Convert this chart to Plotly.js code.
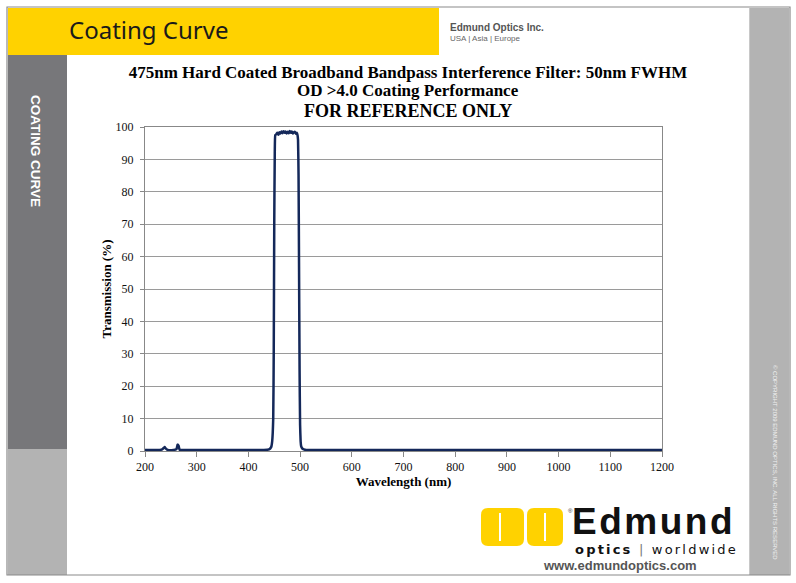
<!DOCTYPE html>
<html>
<head>
<meta charset="utf-8">
<script src="https://cdn.plot.ly/plotly-3.0.1.min.js"></script>
<style>
  html, body { margin: 0; padding: 0; background: #ffffff; }
  #chart { width: 796px; height: 583px; }
</style>
</head>
<body>
<div id="chart"></div>
<script>
// ---- Data ----
const wavelength = [200, 220, 232, 236, 238, 240, 244, 255, 261, 263,
  265, 267, 272, 300, 350, 400, 430, 440, 444, 446,
  448, 449, 450, 451, 452, 454, 456, 458, 460, 462,
  464, 466, 468, 470, 472, 474, 476, 478, 480, 482,
  484, 486, 488, 490, 492, 494, 495, 496, 497, 498,
  499, 500, 501, 502, 504, 507, 512, 550, 600, 700,
  800, 900, 1000, 1100, 1200];
const transmission = [0.3, 0.3, 0.4, 0.9, 1.2, 0.8, 0.3, 0.3, 0.6, 2.0,
  1.6, 0.4, 0.3, 0.3, 0.3, 0.3, 0.3, 0.5, 1.2, 3,
  10, 30, 70, 92, 97.5, 97.8, 98.2, 97.6, 98.4, 98.0,
  98.6, 98.1, 98.7, 98.2, 98.6, 98.0, 98.5, 98.1, 98.8, 98.2,
  98.6, 98.0, 98.4, 98.5, 97.9, 98.2, 97.5, 96, 85, 55,
  25, 8, 3, 1.5, 0.8, 0.5, 0.3, 0.3, 0.3, 0.3,
  0.3, 0.3, 0.3, 0.3, 0.3];
const xTicks = [200, 300, 400, 500, 600, 700, 800, 900, 1000, 1100, 1200];
const yTicks = [0, 10, 20, 30, 40, 50, 60, 70, 80, 90, 100];
const titleLines = [
  "475nm Hard Coated Broadband Bandpass Interference Filter: 50nm FWHM",
  "OD >4.0 Coating Performance",
  "FOR REFERENCE ONLY"
];

// ---- Page geometry (pixels) ----
const W = 796, H = 583;
const M = { l: 145, r: 134, t: 127, b: 132 };
const PW = W - M.l - M.r, PH = H - M.t - M.b;
const px = x => (x - M.l) / PW;          // pixel x -> paper
const py = y => (H - M.b - y) / PH;      // pixel y -> paper

function rect(x0, y0, x1, y1, fill, line) {
  return { type: 'rect', xref: 'paper', yref: 'paper', layer: 'below',
    x0: px(x0), x1: px(x1), y0: py(y1), y1: py(y0),
    fillcolor: fill, line: line || { width: 0 } };
}
function rrect(x0, y0, x1, y1, r, fill) {
  const X0 = px(x0), X1 = px(x1), Y0 = py(y1), Y1 = py(y0);
  const rx = r / PW, ry = r / PH;
  const path = `M ${X0 + rx},${Y0} L ${X1 - rx},${Y0} Q ${X1},${Y0} ${X1},${Y0 + ry} ` +
    `L ${X1},${Y1 - ry} Q ${X1},${Y1} ${X1 - rx},${Y1} L ${X0 + rx},${Y1} ` +
    `Q ${X0},${Y1} ${X0},${Y1 - ry} L ${X0},${Y0 + ry} Q ${X0},${Y0} ${X0 + rx},${Y0} Z`;
  return { type: 'path', xref: 'paper', yref: 'paper', layer: 'below', path: path,
    fillcolor: fill, line: { width: 0 } };
}
function vline(x, y0, y1, color, w) {
  return { type: 'line', xref: 'paper', yref: 'paper', layer: 'below',
    x0: px(x), x1: px(x), y0: py(y0), y1: py(y1), line: { color: color, width: w } };
}
function note(text, x, y, opts) {
  return Object.assign({ text: text, xref: 'paper', yref: 'paper', x: px(x), y: py(y),
    showarrow: false, xanchor: 'left', yanchor: 'middle' }, opts);
}

const yellow = '#FFD200';
const serif = 'Liberation Serif, Times New Roman, serif';
const shapes = [
  rect(8, 8, 439, 55, yellow),
  rect(8, 55, 67, 449, '#77777a'),
  rect(8, 449, 67, 575, '#b3b3b3'),
  rect(749, 8, 789, 575, '#b3b3b3'),
  vline(749.5, 8, 575, '#c8c8c8', 1),
  rect(7, 7, 790, 575, 'rgba(0,0,0,0)', { color: '#8a8a8a', width: 1.2 }),
  // logo blocks
  rrect(481, 508, 524, 546, 7, yellow),
  rrect(527, 508, 563, 546, 7, yellow),
  vline(500, 513, 541, '#ffffff', 2),
  vline(545, 513, 541, '#ffffff', 2)
];

const annotations = [
  note('<b>' + titleLines[1] + '</b>', 408, 91, { xanchor: 'center',
    font: { family: serif, size: 17, color: '#000000' } }),
  note('<b>' + titleLines[2] + '</b>', 408, 111, { xanchor: 'center',
    font: { family: serif, size: 18, color: '#000000' } }),
  note('Coating Curve', 67, 29, { font: { family: 'Noto Sans', size: 24, color: '#1a1a1a' } }),
  note('<b>Edmund Optics Inc.</b>', 448, 28, { font: { family: 'Liberation Sans Narrow, Liberation Sans', size: 10, color: '#555555' } }),
  note('USA | Asia | Europe', 448, 39, { font: { family: 'Liberation Sans Narrow, Liberation Sans', size: 8, color: '#666666' } }),
  note('<b>COATING CURVE</b>', 36, 151, { xanchor: 'center', textangle: 90,
    font: { family: 'Liberation Sans Narrow, Liberation Sans', size: 13.5, color: '#ffffff' } }),
  note('© COPYRIGHT 2009 EDMUND OPTICS, INC. ALL RIGHTS RESERVED', 775, 462, { xanchor: 'center', textangle: 90,
    font: { family: 'Liberation Sans Narrow, Liberation Sans', size: 6, color: '#f2f2f2' } }),
  note('®', 566, 511, { font: { family: 'Liberation Sans', size: 6, color: '#333333' } }),
  note('<span style="letter-spacing:2.5px"><b>Edmund</b></span>', 570, 521, { font: { family: 'Liberation Sans', size: 37, color: '#111111' } }),
  note('<span style="letter-spacing:2.2px"><b>optics</b> <span style="color:#777">|</span> worldwide</span>', 573, 549.5, {
    font: { family: 'DejaVu Sans', size: 13, color: '#111111' } }),
  note('<b>www.edmundoptics.com</b>', 620, 565, { xanchor: 'center',
    font: { family: 'Liberation Sans', size: 13, color: '#555555' } })
];

const trace = {
  x: wavelength, y: transmission, type: 'scatter', mode: 'lines',
  line: { color: '#14285a', width: 2.5, shape: 'spline', smoothing: 0.4 },
  hoverinfo: 'x+y'
};

const axisFont = { family: serif, size: 12, color: '#111111' };
const layout = {
  width: W, height: H,
  margin: M,
  paper_bgcolor: '#ffffff', plot_bgcolor: 'rgba(0,0,0,0)',
  showlegend: false,
  title: {
    text: '<b>' + titleLines[0] + '</b>',
    font: { family: serif, size: 17, color: '#000000' },
    x: 408 / W, xanchor: 'center', xref: 'container',
    y: (H - 72) / H, yanchor: 'middle', yref: 'container'
  },
  xaxis: {
    range: [200, 1200], tickvals: xTicks, ticktext: xTicks.map(String),
    showgrid: false, zeroline: false, showline: true, linecolor: '#888888', linewidth: 1,
    mirror: true, ticks: 'outside', ticklen: 5, tickcolor: '#888888',
    tickfont: axisFont,
    title: { text: '<b>Wavelength (nm)</b>', standoff: 2,
      font: { family: serif, size: 13, color: '#000000' } }
  },
  yaxis: {
    range: [0, 100], tickvals: yTicks, ticktext: yTicks.map(String),
    showgrid: true, gridcolor: '#9a9a9a', gridwidth: 1,
    zeroline: false, showline: true, linecolor: '#888888', linewidth: 1,
    mirror: true, ticks: 'outside', ticklen: 4, tickcolor: '#888888',
    ticklabelstandoff: 4,
    tickfont: axisFont,
    title: { text: '<b>Transmission (%)</b>', standoff: 1,
      font: { family: serif, size: 13, color: '#000000' } }
  },
  shapes: shapes,
  annotations: annotations
};

Plotly.newPlot('chart', [trace], layout, { displayModeBar: false, staticPlot: true });
</script>
</body>
</html>
